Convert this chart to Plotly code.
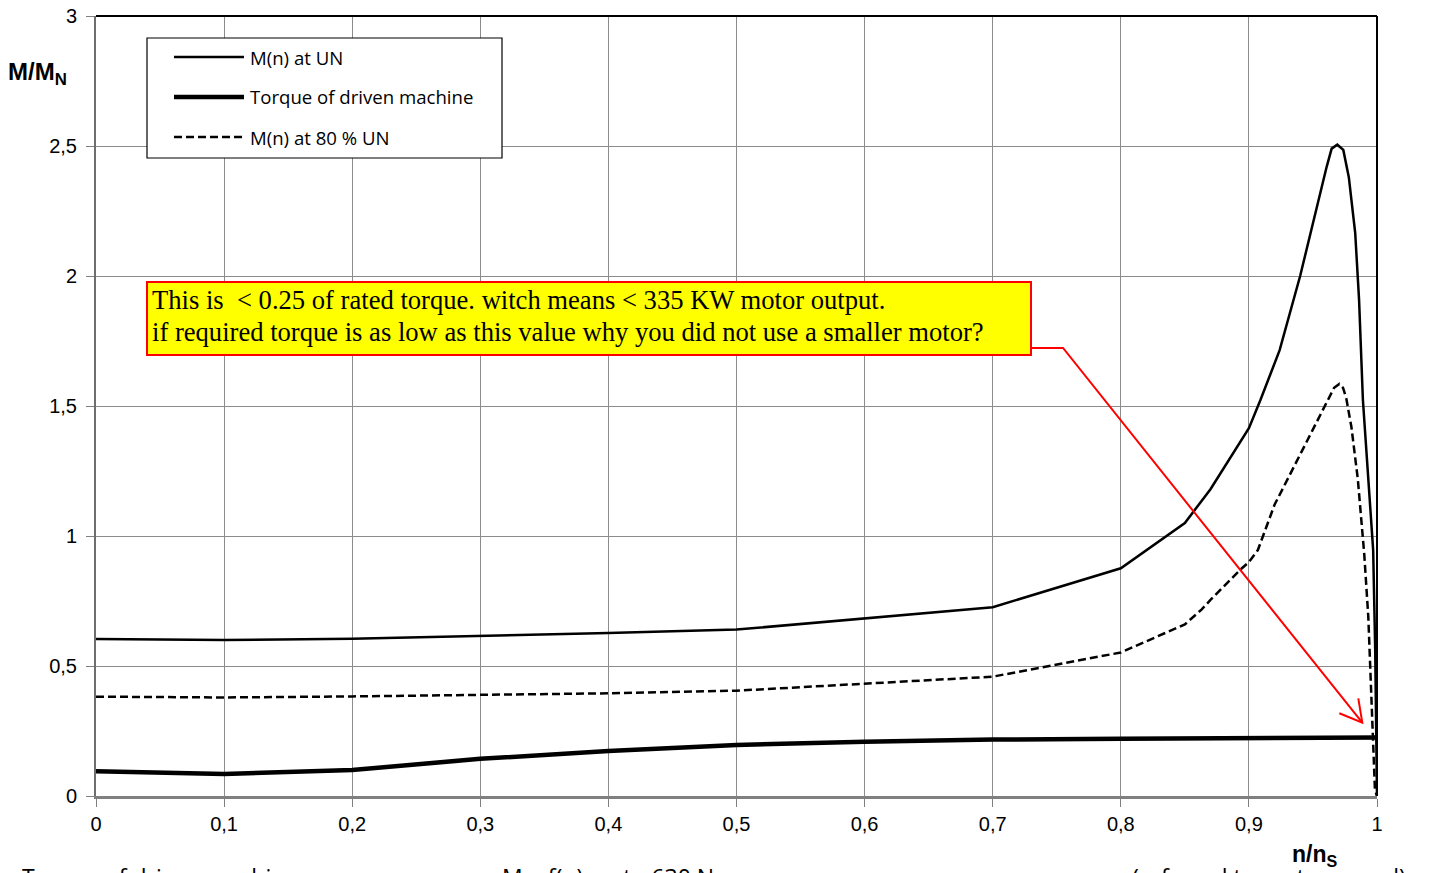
import plotly.graph_objects as go

# ---- data ----
n_un = [0, 0.1, 0.2, 0.3, 0.4, 0.5, 0.6, 0.7, 0.8, 0.85, 0.87, 0.9, 0.909, 0.924,
        0.94, 0.954, 0.9607, 0.9646, 0.969, 0.9737, 0.978, 0.983, 0.986, 0.989, 0.993, 0.997, 0.9986, 1.0]
m_un = [0.604, 0.600, 0.605, 0.615, 0.627, 0.640, 0.683, 0.726, 0.876, 1.05, 1.18, 1.415,
        1.523, 1.715, 2.0, 2.29, 2.42, 2.49, 2.505, 2.485, 2.38, 2.165, 1.908, 1.523, 1.25, 0.946, 0.562, 0.0]

n_80 = [0, 0.1, 0.2, 0.3, 0.4, 0.5, 0.6, 0.7, 0.8, 0.85, 0.863, 0.87, 0.893, 0.9, 0.907,
        0.92, 0.95, 0.962, 0.9665, 0.9706, 0.9735, 0.976, 0.98, 0.985, 0.99, 0.9932, 0.9958, 0.9984, 1.0]
m_80 = [0.382, 0.379, 0.383, 0.390, 0.395, 0.405, 0.431, 0.459, 0.552, 0.66, 0.717, 0.754,
        0.869, 0.90, 0.946, 1.12, 1.41, 1.53, 1.57, 1.585, 1.57, 1.53, 1.42, 1.22, 0.933, 0.69, 0.331, 0.023, 0.0]

n_dr = [0, 0.1, 0.2, 0.3, 0.4, 0.5, 0.6, 0.7, 0.8, 0.9, 1.0]
m_dr = [0.095, 0.085, 0.100, 0.143, 0.173, 0.196, 0.209, 0.217, 0.220, 0.222, 0.225]

series_names = ["M(n) at UN", "Torque of driven machine", "M(n) at 80 % UN"]

x_ticks = [0, 0.1, 0.2, 0.3, 0.4, 0.5, 0.6, 0.7, 0.8, 0.9, 1]
y_ticks = [0, 0.5, 1, 1.5, 2, 2.5, 3]

note_lines = ["This is\u00a0 < 0.25 of rated torque. witch means < 335 KW motor output.",
              "if required torque is as low as this value why you did not use a smaller motor?"]

caption_parts = ["Torque of driven machine", "M = f(n) up to 630 Nm", "(referred to motor speed)"]

# ---- styles ----
styles = [dict(color="black", width=2.5),
          dict(color="black", width=4.5),
          dict(color="black", width=2.5, dash="8px,4px")]


# page-pixel -> paper helpers (plot area spans x 96..1377, y 16..796 on the page)
def px(p):
    return (p - 96) / 1281


def py(p):
    return (796 - p) / 780


fig = go.Figure()
for xs, ys, nm, st in zip([n_un, n_dr, n_80], [m_un, m_dr, m_80], series_names, styles):
    fig.add_trace(go.Scatter(x=xs, y=ys, mode="lines", name=nm, line=st, showlegend=False))

tick_font = dict(family="Liberation Sans, Arial", size=20, color="black")

# the page adds an 8 px body margin, so the figure margins are reduced by 8 px
fig.update_layout(
    width=1443, height=873,
    margin=dict(l=88, r=74, t=8, b=85, autoexpand=False),
    paper_bgcolor="white", plot_bgcolor="white",
    separators=", ",
    showlegend=False,
    xaxis=dict(range=[0, 1], tickvals=x_ticks, showgrid=True, gridcolor="#8c8c8c", gridwidth=1,
               showline=True, linecolor="#808080", linewidth=3, ticks="outside", ticklen=8,
               tickcolor="#808080", tickfont=tick_font, zeroline=False, fixedrange=True,
               ticklabelstandoff=0, ticklabeloverflow="allow"),
    yaxis=dict(range=[0, 3], tickvals=y_ticks, showgrid=True, gridcolor="#8c8c8c", gridwidth=1,
               showline=True, linecolor="#6e6e6e", linewidth=2, ticks="outside", ticklen=8,
               tickcolor="#808080", tickfont=tick_font, zeroline=False, fixedrange=True,
               ticklabelstandoff=5, ticklabeloverflow="allow"),
)

# top and right plot borders (black), outer frame line on the far right
fig.add_shape(type="line", xref="paper", yref="paper", x0=0, x1=1, y0=1, y1=1,
              line=dict(color="black", width=2))
fig.add_shape(type="line", xref="paper", yref="paper", x0=1, x1=1, y0=0, y1=1,
              line=dict(color="black", width=2))
fig.add_shape(type="line", xref="paper", yref="paper", x0=px(1440), x1=px(1440),
              y0=-0.12, y1=1.03, line=dict(color="black", width=1.5))

# legend box (drawn by hand to match the reference's padding and spacing)
fig.add_shape(type="rect", xref="paper", yref="paper", x0=px(147), x1=px(502), y0=py(158), y1=py(38),
              fillcolor="white", line=dict(color="black", width=1.2))
for i, (nm, st) in enumerate(zip(series_names, styles)):
    yy = 57 + 40 * i
    fig.add_shape(type="line", xref="paper", yref="paper", x0=px(174), x1=px(244), y0=py(yy), y1=py(yy),
                  line=st)
    fig.add_annotation(xref="paper", yref="paper", x=px(248), y=py(yy), xanchor="left", yanchor="middle",
                       showarrow=False, text=nm,
                       font=dict(family="Open Sans", size=18.6, color="black"))

# red callout arrow
fig.add_shape(type="path", xref="x", yref="y",
              path="M 0.7299 1.7231 L 0.7549 1.7231 L 0.98852 0.2819",
              line=dict(color="red", width=2))
fig.add_shape(type="path", xref="x", yref="y",
              path="M 0.9706 0.3181 L 0.98852 0.2819 L 0.9854 0.3757",
              line=dict(color="red", width=2))

# yellow note
fig.add_shape(type="rect", xref="paper", yref="paper", x0=px(147), x1=px(1031), y0=py(355), y1=py(282),
              fillcolor="#ffff00", line=dict(color="red", width=2))
for i, t in enumerate(note_lines):
    fig.add_annotation(xref="paper", yref="paper", x=px(150), y=py(300 + 32 * i),
                       xanchor="left", yanchor="middle", showarrow=False, align="left", text=t,
                       font=dict(family="Liberation Serif, Times New Roman", size=26.6, color="black"))

# axis titles
fig.add_annotation(xref="paper", yref="paper", x=px(6), y=py(74),
                   xanchor="left", yanchor="middle", showarrow=False,
                   text="<b>M/M<sub>N</sub></b>",
                   font=dict(family="Liberation Sans, Arial", size=24, color="black"))
fig.add_annotation(xref="paper", yref="paper", x=px(1290), y=py(855),
                   xanchor="left", yanchor="middle", showarrow=False,
                   text="<b>n/n<sub>S</sub></b>",
                   font=dict(family="Liberation Sans, Arial", size=23, color="black"))

# cut-off caption at the bottom
cap_font = dict(family="Open Sans", size=23, color="black")
for txt, p in zip(caption_parts, [20, 500, 1130]):
    fig.add_annotation(xref="paper", yref="paper", x=px(p), y=py(859),
                       xanchor="left", yanchor="top", showarrow=False, text=txt, font=cap_font)

fig.write_html("out.html")
